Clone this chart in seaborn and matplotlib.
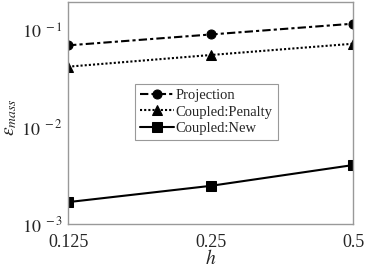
import numpy as np
import matplotlib
matplotlib.use("Agg")
import matplotlib.pyplot as plt
import matplotlib.ticker as mticker
import pandas as pd
import seaborn as sns

h = [0.125, 0.25, 0.5]
projection = [0.071, 0.092, 0.119]
penalty = [0.0427, 0.0564, 0.0738]
coupled_new = [0.00169, 0.00249, 0.00409]

series = {
    "Projection": projection,
    "Coupled:Penalty": penalty,
    "Coupled:New": coupled_new,
}
styles = {
    "Projection": dict(marker="o", ls=(0, (4, 1.5, 1.5, 1.5))),
    "Coupled:Penalty": dict(marker="^", ls=(0, (1, 1))),
    "Coupled:New": dict(marker="s", ls="-"),
}

sns.set_style("white")
plt.rcParams["font.family"] = ["Liberation Serif", "DejaVu Serif"]
plt.rcParams["mathtext.fontset"] = "stix"

fig = plt.figure(figsize=(3.74, 2.75), dpi=100)
ax = fig.add_axes([0.182, 0.185, 0.762, 0.808])

for name, vals in series.items():
    df = pd.DataFrame({"h": h, "err": vals})
    st = styles[name]
    sns.lineplot(data=df, x="h", y="err", ax=ax, color="black", lw=1.5,
                 linestyle=st["ls"], marker=st["marker"], markersize=6.5,
                 markeredgecolor="black", label=name)

ax.set_xscale("log", base=2)
ax.set_yscale("log")
ax.set_xlim(0.125, 0.5)
ax.set_ylim(1e-3, 0.2)
ax.xaxis.set_major_locator(mticker.FixedLocator(h))
ax.xaxis.set_major_formatter(mticker.FixedFormatter(["0.125", "0.25", "0.5"]))
ax.xaxis.set_minor_locator(mticker.NullLocator())
ax.yaxis.set_major_locator(mticker.FixedLocator([1e-3, 1e-2, 1e-1]))
ax.yaxis.set_major_formatter(mticker.FixedFormatter(
    [r"$10^{\ -3}$", r"$10^{\ -2}$", r"$10^{\ -1}$"]))
ax.yaxis.set_minor_locator(mticker.NullLocator())
ax.tick_params(axis="x", length=0, labelsize=13, pad=7)
ax.tick_params(axis="y", length=0, labelsize=13, pad=4)

for sp in ax.spines.values():
    sp.set_color("#999999")
    sp.set_linewidth(1.0)

ax.set_xlabel(r"$h$", fontsize=14, labelpad=-1)
ax.set_ylabel(r"$\epsilon_{mass}$", fontsize=14)
ax.yaxis.set_label_coords(-0.172, 0.48)

leg = ax.legend(loc="upper left", bbox_to_anchor=(0.235, 0.63), fontsize=10.5,
                frameon=True, fancybox=False, handlelength=2.3, handletextpad=0.15,
                borderpad=0.35, labelspacing=0.2, borderaxespad=0)
leg.get_frame().set_edgecolor("#999999")
leg.get_frame().set_linewidth(0.8)
leg.get_frame().set_alpha(1)

fig.savefig("out.png", dpi=100)
